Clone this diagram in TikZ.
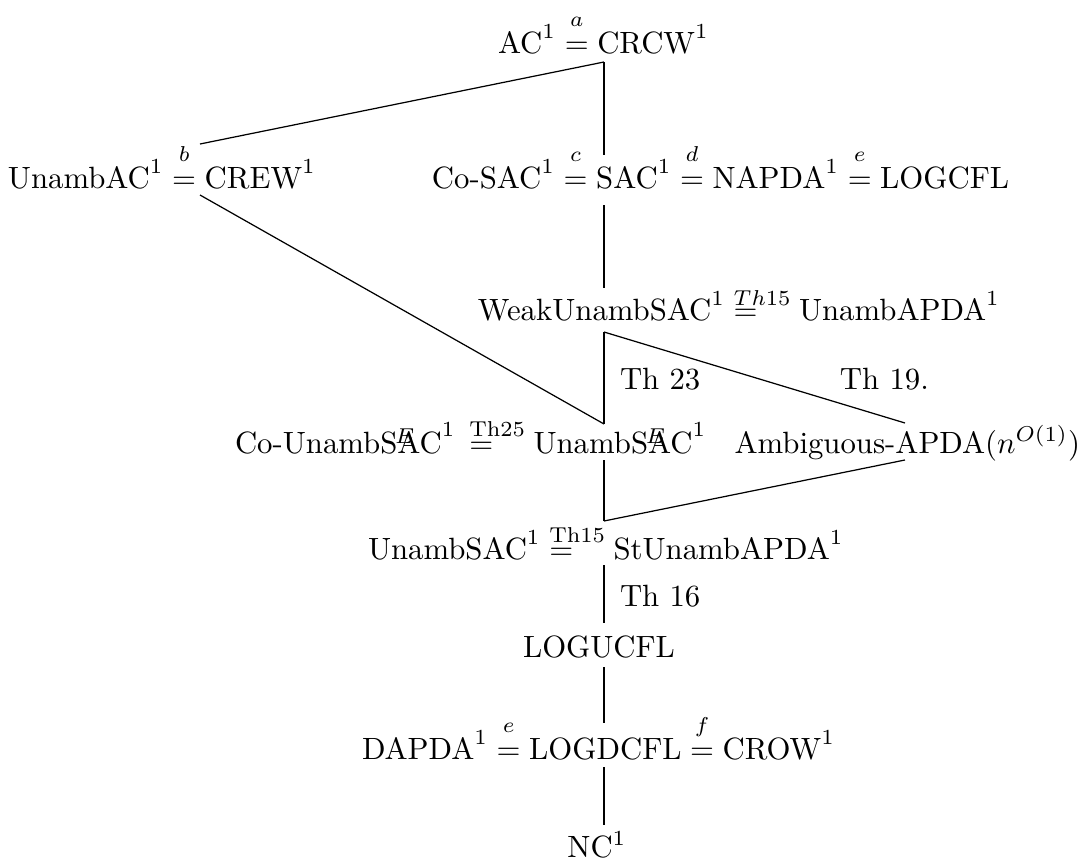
\documentclass[tikz,border=0pt]{standalone}
\usepackage{amsmath}
\newcommand{\ovE}{\rlap{\kern-0.7pt\raisebox{3pt}{$\scriptstyle E$}}}
\newcommand{\eqlab}[1]{\mathrel{\mathop{=}\limits^{\raisebox{3pt}{$\scriptstyle #1$}}}}
\newcommand{\eqth}[2][5.4pt]{\mathrel{\rlap{$=$}\raisebox{#1}{$\scriptstyle #2$}}}
\begin{document}
\begin{tikzpicture}[x=0.325pt,y=-0.325pt,
  every node/.style={inner sep=0pt, outer sep=0pt},
  lbl/.style={anchor=base west},
  th/.style={anchor=base west},
  conn/.style={line width=0.4pt}]
\useasboundingbox (0,0) rectangle (1080,859);
% rows
\node[lbl] (top) at (498,53) {$\text{AC}^1 \eqlab{a} \text{CRCW}^1$};
\node[lbl] (unac) at (8,188) {$\text{UnambAC}^1 \eqlab{b} \text{CREW}^1$};
\node[lbl] (sac) at (432,188) {$\text{Co-SAC}^1 \eqlab{c} \text{SAC}^1 \eqlab{d} \text{NAPDA}^1 \eqlab{e} \text{LOGCFL}$};
\node[lbl] (weak) at (478,320) {$\text{WeakUnambSAC}^1 \eqth[4.6pt]{Th15} \text{UnambAPDA}^1$};
\node[th] (th23) at (620,389) {Th 23};
\node[th] (th19) at (840,389) {Th 19.};
\node[lbl] (counamb) at (235,453) {$\text{Co-UnambS\ovE AC}^1\,\eqth{\mathrm{Th}25} \text{UnambS\ovE AC}^1$};
\node[anchor=base east] (amb) at (1080,453) {Ambiguous-APDA($n^{O(1)}$)};
\node[lbl] (unsac) at (368,559) {$\text{UnambSAC}^1 \eqth{\mathrm{Th}15} \text{StUnambAPDA}^1$};
\node[th] (th16) at (620,606) {Th 16};
\node[anchor=base] (logucfl) at (599,657) {LOGUCFL};
\node[lbl] (dapda) at (362,759) {$\text{DAPDA}^1 \eqlab{e} \text{LOGDCFL} \eqlab{f} \text{CROW}^1$};
\node[anchor=base] (nc) at (597,857) {NC$^1$};
% connection points
\coordinate (topS) at (604,62);
\coordinate (unacN) at (200,144);
\coordinate (unacS) at (200,195);
\coordinate (sacN) at (604,155);
\coordinate (sacS) at (604,205);
\coordinate (weakN) at (604,288);
\coordinate (weakS) at (604,332);
\coordinate (unambN) at (604,424);
\coordinate (unambS) at (604,460);
\coordinate (ambN) at (905,423);
\coordinate (ambS) at (905,460);
\coordinate (unsacN) at (604,521);
\coordinate (unsacS) at (604,565);
\coordinate (logucflN) at (604,623);
\coordinate (logucflS) at (604,667);
\coordinate (dapdaN) at (604,723);
\coordinate (dapdaS) at (604,767);
\coordinate (ncN) at (604,825);
% connectors
\draw[conn] (topS) -- (unacN);
\draw[conn] (topS) -- (sacN);
\draw[conn] (sacS) -- (weakN);
\draw[conn] (unacS) -- (unambN);
\draw[conn] (weakS) -- (unambN);
\draw[conn] (weakS) -- (ambN);
\draw[conn] (ambS) -- (unsacN);
\draw[conn] (unambS) -- (unsacN);
\draw[conn] (unsacS) -- (logucflN);
\draw[conn] (logucflS) -- (dapdaN);
\draw[conn] (dapdaS) -- (ncN);
\end{tikzpicture}
\end{document}
